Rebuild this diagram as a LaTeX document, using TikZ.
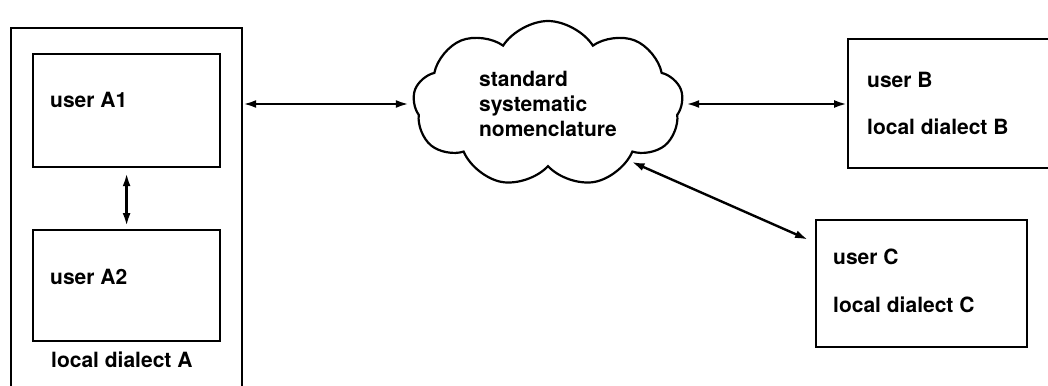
\documentclass[tikz,border=0pt]{standalone}
\usepackage{fontspec}
\setmainfont{TeX Gyre Heros}
\usetikzlibrary{shapes.symbols,arrows.meta}
\begin{document}
\begin{tikzpicture}[x=1pt,y=-1pt,
  box/.style={draw,line width=2.2pt,inner sep=0pt,anchor=north west},
  txt/.style={font=\fontsize{21}{25}\selectfont\bfseries},
  lbl/.style={txt,anchor=west,inner sep=0pt},
  tip/.tip={Latex[length=13pt,width=8pt]},
  link/.style={line width=2.4pt,tip-tip}]
\useasboundingbox (0,0) rectangle (1048,385);
\clip (0,0) rectangle (1048,385);

% community A: outer frame with two users
\node[box,minimum width=231pt,minimum height=420pt] (A) at (10,27) {};
\node[box,minimum width=187pt,minimum height=113pt] (A1) at (32,53) {};
\node[box,minimum width=187pt,minimum height=111pt] (A2) at (32,229) {};
\node[lbl] (tA1) at (50,100) {user A1};
\node[lbl] (tA2) at (50,277) {user A2};
\node[lbl] (tA) at (51,360) {local dialect A};

% shared nomenclature
\node[cloud,draw,line width=2.2pt,cloud puffs=9,cloud puff arc=115,
      cloud ignores aspect,minimum width=270pt,minimum height=166pt,
      txt,align=left,inner sep=0pt] (N) at (548,104)
      {standard\\systematic\\nomenclature};

% user B
\node[box,minimum width=230pt,minimum height=129pt] (B) at (847,38) {};
\node[lbl] (tB1) at (867,80) {user B};
\node[lbl] (tB2) at (867,127) {local dialect B};

% user C
\node[box,minimum width=211pt,minimum height=127pt] (C) at (815,219) {};
\node[lbl] (tC1) at (833,257) {user C};
\node[lbl] (tC2) at (833,305) {local dialect C};

% exchanges
\draw[link,shorten <=5pt,shorten >=3pt] (A1.south) -- (A2.north);
\draw[link,shorten >=4pt] (A.east |- N.west) -- (N.west);
\draw[link,shorten <=3pt] (N.east) -- (N.east -| B.west);
\draw[link,shorten <=3pt] (N.-35) -- ([shift={(-7,-44)}]C.west);
\end{tikzpicture}
\end{document}
